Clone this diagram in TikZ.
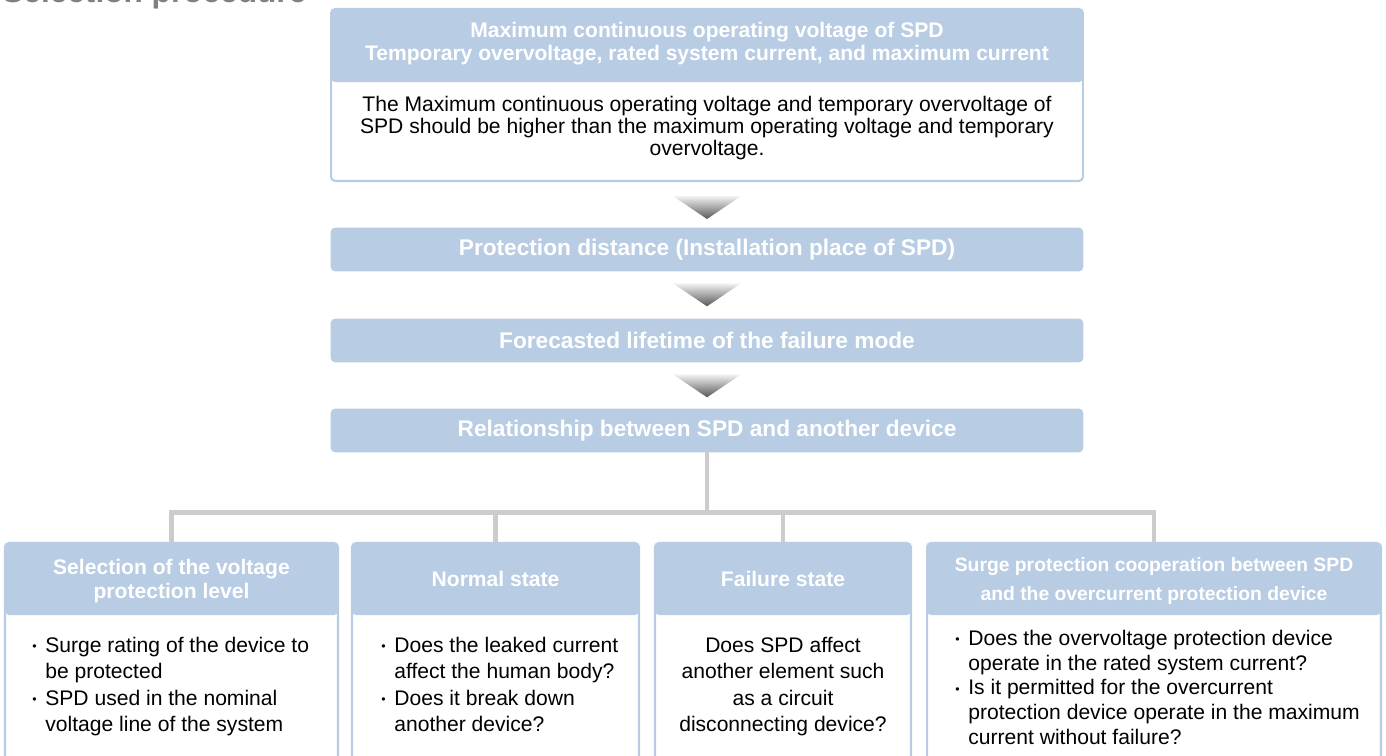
\documentclass[tikz,border=0pt]{standalone}
\usepackage{fontspec}
\setmainfont{Liberation Sans}
\usetikzlibrary{calc}
\definecolor{hdblue}{HTML}{B8CCE4}
\definecolor{lnkgray}{HTML}{CCCCCC}
\definecolor{ttlgray}{HTML}{808080}
\newcommand{\bl}{\makebox[7.4pt][l]{\raisebox{.15ex}{\scriptsize\textbullet}}}
\newcommand{\ind}{\hspace*{7.4pt}}

\begin{document}
\begin{tikzpicture}[x=0.02cm,y=-0.02cm,font=\fontsize{12}{14}\selectfont,
 card/.style={draw=hdblue,line width=1.2pt,fill=white,rounded corners=2.3pt,inner sep=0pt,
  path picture={\fill[hdblue] (path picture bounding box.north west)
   rectangle ($(path picture bounding box.north east)+(0,#1)$);}},
 bar/.style={draw=hdblue,fill=hdblue,rounded corners=2.3pt,minimum width=15.04cm,
  minimum height=0.86cm,text=white,font=\fontsize{12.9}{14}\selectfont\bfseries},
 hd/.style={text=white,font=\fontsize{12}{14}\selectfont\bfseries,align=center,inner sep=0pt},
 bd/.style={align=left,inner sep=0pt,font=\fontsize{12}{15}\selectfont},
 tri/.style={top color=black!5,bottom color=black!66},
 conn/.style={lnkgray,line width=2.8pt}]
\useasboundingbox (0,0) rectangle (1386,756);
\node[anchor=base west,inner sep=0pt,text=ttlgray,font=\fontsize{18}{20}\selectfont\bfseries]
 (ttl) at (2,3) {Selection procedure};
% upper column
\node[card=73,minimum width=15.04cm,minimum height=3.44cm] (top) at (707,95) {};
\node[hd,font=\fontsize{12}{13}\selectfont\bfseries] (toph) at (707,44)
 {Maximum continuous operating voltage of SPD\\Temporary overvoltage, rated system current, and maximum current};
\node[align=center,inner sep=0pt,font=\fontsize{12}{12.5}\selectfont] (topb) at (707,128)
 {The Maximum continuous operating voltage and temporary overvoltage of\\SPD should be higher than the maximum operating voltage and temporary\\overvoltage.};
\node[bar] (dist) at (707,249.5) {Protection distance (Installation place of SPD)};
\node[bar] (life) at (707,340.5) {Forecasted lifetime of the failure mode};
\node[bar] (rel) at (707,430.5) {Relationship between SPD and another device};
\shade[tri] ($(top.south)+(-34,14)$) -- ($(top.south)+(34,14)$) -- ($(top.south)+(0,37)$) -- cycle;
\shade[tri] ($(dist.south)+(-34,12)$) -- ($(dist.south)+(34,12)$) -- ($(dist.south)+(0,35)$) -- cycle;
\shade[tri] ($(life.south)+(-34,12)$) -- ($(life.south)+(34,12)$) -- ($(life.south)+(0,35)$) -- cycle;
% lower row
\node[card=72,minimum width=6.66cm,minimum height=4.74cm] (c1) at (171.5,661.5) {};
\node[card=72,minimum width=5.74cm,minimum height=4.74cm] (c2) at (495.5,661.5) {};
\node[card=72,minimum width=5.12cm,minimum height=4.74cm] (c3) at (783,661.5) {};
\node[card=72,minimum width=9.08cm,minimum height=4.74cm] (c4) at (1154,661.5) {};
\draw[conn] (rel.south) -- ++(0,60) -| (c1.north);
\draw[conn] (rel.south) -- ++(0,60) -| (c2.north);
\draw[conn] (rel.south) -- ++(0,60) -| (c3.north);
\draw[conn] (rel.south) -- ++(0,60) -| (c4.north);
\node[hd] (h1) at (171.5,581) {Selection of the voltage\\protection level};
\node[hd] (h2) at (495.5,579) {Normal state};
\node[hd] (h3) at (783,579) {Failure state};
\node[hd,font=\fontsize{11}{17}\selectfont\bfseries] (h4) at (1154,581)
 {Surge protection cooperation between SPD\\and the overcurrent protection device};
\node[bd,anchor=north west] (t1) at (32,637)
 {\bl Surge rating of the device to\\\ind be protected\\\bl SPD used in the nominal\\\ind voltage line of the system};
\node[bd,anchor=north west] (t2) at (381,637)
 {\bl Does the leaked current\\\ind affect the human body?\\\bl Does it break down\\\ind another device?};
\node[bd,align=center,anchor=north] (t3) at (783,637)
 {Does SPD affect\\another element such\\as a circuit\\disconnecting device?};
\node[bd,anchor=north west,font=\fontsize{12}{14}\selectfont] (t4) at (955,630)
 {\bl Does the overvoltage protection device\\\ind operate in the rated system current?\\\bl Is it permitted for the overcurrent\\\ind protection device operate in the maximum\\\ind current without failure?};
\end{tikzpicture}
\end{document}
